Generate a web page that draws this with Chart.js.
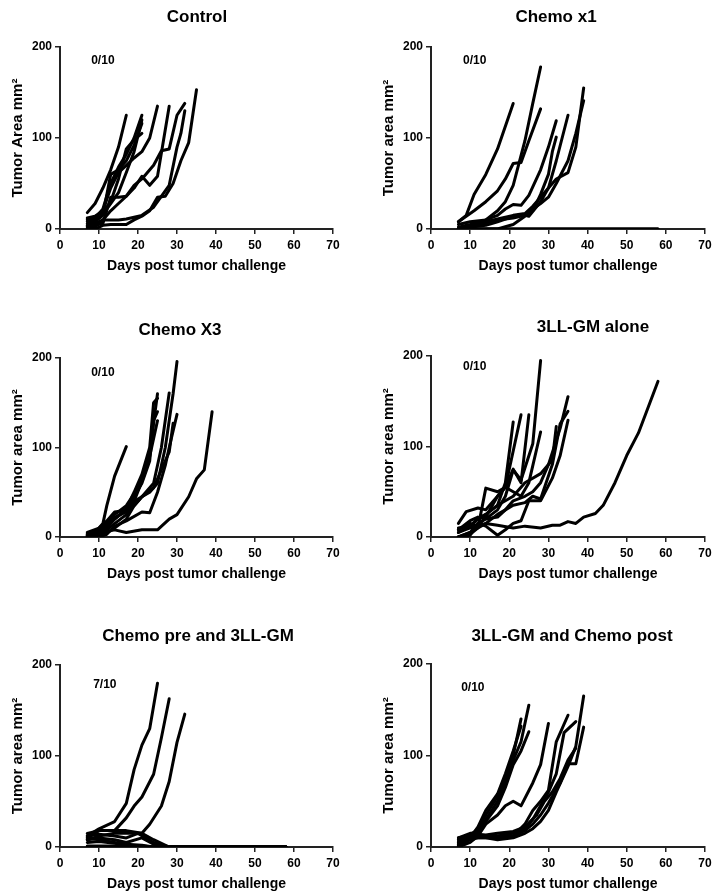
<!DOCTYPE html>
<html>
<head>
<meta charset="utf-8">
<script src="https://cdn.jsdelivr.net/npm/chart.js@4.4.1/dist/chart.umd.min.js"></script>
<style>
  html, body { margin: 0; padding: 0; background: #fff; overflow: hidden; width: 726px; height: 895px; }
  canvas { position: absolute; }
</style>
</head>
<body>
<script>
// tumor area (mm2) per mouse, as [day, area] pairs
const controlMice = [
  [[7,18],[9,28],[11,45],[13,65],[15,90],[17,125]],
  [[7,8],[9,12],[11,22],[13,50],[15,68],[17,82],[19,100],[21,125]],
  [[7,4],[9,8],[11,15],[13,60],[15,65],[17,75],[19,92],[21,116]],
  [[7,10],[9,14],[11,18],[13,30],[15,55],[17,88],[19,98],[21,105]],
  [[7,12],[9,14],[11,20],[13,45],[15,62],[17,70],[19,78],[21,85],[23,100],[25,135]],
  [[7,3],[9,6],[11,10],[13,20],[15,28],[17,36],[19,45],[21,58],[23,48],[25,58],[28,135]],
  [[7,2],[9,4],[11,6],[13,35],[15,35],[17,36],[19,48],[21,55],[24,70],[26,86],[28,88],[30,125],[32,138]],
  [[7,0],[9,2],[11,10],[13,10],[15,10],[17,11],[19,13],[21,15],[24,24],[28,48],[30,90],[31,105],[32,130]],
  [[7,0],[9,0],[11,4],[13,5],[15,5],[17,5],[19,10],[21,14],[23,20],[25,35],[27,36],[29,50],[31,75],[33,95],[35,153]],
  [[7,6],[9,10],[11,16],[13,28],[15,40],[17,62],[19,85],[21,120]]
];

const chemoOnceMice = [
  [[7,8],[9,15],[11,38],[14,60],[17,88],[21,138]],
  [[7,5],[10,8],[14,10],[17,20],[19,30],[21,48],[24,97],[26,138],[28,178]],
  [[7,8],[9,14],[11,20],[14,30],[17,42],[19,55],[21,72],[23,73],[25,97],[28,132]],
  [[7,2],[10,5],[14,10],[17,15],[19,22],[21,27],[23,26],[25,37],[28,65],[30,90],[32,119]],
  [[7,0],[10,3],[14,6],[17,10],[21,12],[24,15],[26,20],[28,38],[30,60],[31,85],[32,101]],
  [[7,0],[10,2],[14,4],[17,8],[21,14],[24,15],[25,14],[28,30],[30,45],[32,75],[35,125]],
  [[7,0],[10,3],[14,8],[17,11],[21,15],[24,17],[26,25],[28,35],[30,45],[32,55],[35,62],[37,90],[39,155]],
  [[7,0],[10,0],[14,0],[17,0],[21,5],[24,14],[26,22],[28,28],[30,35],[32,50],[35,75],[37,105],[39,141]],
  [[7,0],[58,0]],
  [[7,0],[58,0]]
];

const chemoThriceMice = [
  [[7,2],[9,5],[11,15],[12,35],[14,68],[17,101]],
  [[7,3],[10,8],[12,15],[14,25],[17,35],[19,48],[21,65],[23,95],[25,160]],
  [[7,0],[10,5],[12,10],[14,20],[17,32],[19,50],[21,70],[23,100],[24,150],[25,155]],
  [[7,5],[10,10],[12,18],[14,28],[17,30],[19,45],[21,60],[23,85],[24,130],[25,140]],
  [[7,0],[10,2],[12,8],[14,15],[17,25],[19,40],[21,62],[23,90],[25,130]],
  [[7,2],[10,6],[12,12],[14,20],[17,30],[19,40],[21,45],[24,60],[26,100],[28,161]],
  [[7,0],[10,3],[12,5],[14,10],[17,20],[19,35],[21,45],[23,50],[25,60],[27,100],[28,130],[29,160],[30,196]],
  [[7,0],[10,0],[12,3],[14,12],[17,18],[21,28],[23,27],[25,50],[27,80],[28,100],[30,137]],
  [[7,4],[10,8],[12,14],[14,22],[17,28],[19,35],[21,45],[24,55],[26,75],[28,95],[29,127]],
  [[7,2],[10,4],[14,8],[17,5],[21,8],[25,8],[28,20],[30,25],[33,45],[35,65],[37,75],[39,140]]
];

const vaccineMice = [
  [[7,0],[10,5],[12,15],[14,20],[17,30],[19,45],[21,74],[23,63],[26,103],[28,195]],
  [[7,10],[10,12],[12,20],[14,25],[17,35],[19,60],[21,127]],
  [[7,8],[10,15],[12,12],[14,22],[17,45],[19,55],[21,95],[23,135]],
  [[7,15],[9,28],[12,32],[14,30],[17,45],[19,55],[21,75],[23,60],[25,135]],
  [[7,0],[10,3],[12,10],[14,54],[17,50],[19,55],[21,50],[23,45],[25,60],[28,116]],
  [[7,5],[10,12],[12,20],[14,25],[17,35],[21,45],[24,60],[28,70],[31,85],[32,122]],
  [[7,0],[10,5],[12,10],[14,15],[17,25],[19,30],[21,40],[24,45],[26,50],[28,60],[30,80],[33,120],[35,155]],
  [[7,8],[10,18],[12,22],[14,20],[17,22],[19,30],[21,35],[24,38],[26,45],[28,42],[31,80],[33,125],[35,139]],
  [[7,0],[10,2],[12,15],[14,12],[17,2],[19,8],[21,15],[23,18],[25,40],[28,40],[31,65],[33,90],[35,129]],
  [[7,5],[10,10],[14,15],[17,13],[21,10],[24,12],[28,10],[31,13],[33,13],[35,17],[37,15],[39,22],[42,26],[44,35],[47,60],[50,90],[53,115],[58,172]]
];

const chemoPreMice = [
  [[7,12],[10,20],[14,28],[17,48],[19,85],[21,112],[23,130],[25,180]],
  [[7,10],[10,18],[14,18],[17,32],[19,45],[21,55],[24,80],[26,120],[28,163]],
  [[7,8],[10,12],[14,15],[17,15],[21,15],[23,25],[26,45],[28,72],[30,115],[32,146]],
  [[7,15],[10,18],[14,18],[17,18],[21,15],[24,8],[28,0],[58,0]],
  [[7,12],[10,14],[14,12],[17,10],[20,15],[24,5],[28,0],[58,0]],
  [[7,8],[10,10],[14,8],[17,5],[21,10],[24,3],[26,0],[58,0]],
  [[7,10],[10,8],[14,5],[17,3],[21,2],[24,0],[58,0]],
  [[7,5],[10,6],[14,4],[17,2],[21,0],[58,0]],
  [[7,0],[58,0]],
  [[7,1],[10,1],[14,1],[17,1],[21,1],[24,0],[58,0]]
];

const chemoPostMice = [
  [[7,8],[10,12],[12,20],[14,35],[17,55],[19,75],[21,100],[23,140]],
  [[7,5],[10,10],[12,22],[14,40],[17,58],[19,80],[21,105],[23,132]],
  [[7,3],[10,14],[12,18],[14,30],[17,50],[19,70],[21,95],[23,115],[25,155]],
  [[7,10],[10,15],[12,15],[14,28],[17,45],[19,65],[21,90],[23,105],[25,126]],
  [[7,0],[10,5],[12,12],[14,25],[17,35],[19,45],[21,50],[23,45],[26,70],[28,90],[30,135]],
  [[7,5],[10,12],[12,10],[14,10],[17,10],[21,12],[24,25],[26,40],[28,50],[30,62],[32,115],[35,144]],
  [[7,8],[10,14],[12,12],[14,12],[17,12],[21,15],[24,20],[26,30],[28,45],[30,60],[32,80],[34,125],[37,137]],
  [[7,2],[10,8],[12,10],[14,10],[17,8],[21,10],[24,15],[26,20],[28,28],[30,40],[32,60],[35,88],[37,110],[39,165]],
  [[7,5],[10,10],[12,12],[14,12],[17,12],[21,12],[24,18],[26,25],[28,35],[30,48],[33,70],[35,91],[37,91],[39,131]],
  [[7,10],[10,12],[12,14],[14,13],[17,15],[21,17],[24,22],[27,35],[29,50],[31,60],[33,75],[35,95],[37,108]]
];

const groupData = [controlMice, chemoOnceMice, chemoThriceMice, vaccineMice, chemoPreMice, chemoPostMice];
const panelTitles = ['Control', 'Chemo x1', 'Chemo X3', '3LL-GM alone', 'Chemo pre and 3LL-GM', '3LL-GM and Chemo post'];
const yTitles = ['Tumor Area mm²', 'Tumor area mm²', 'Tumor area mm²', 'Tumor area mm²', 'Tumor area mm²', 'Tumor area mm²'];
const tumorFree = ['0/10', '0/10', '0/10', '0/10', '7/10', '0/10'];
const dayTicks = [0, 10, 20, 30, 40, 50, 60, 70];
const areaTicks = [0, 100, 200];

// page placement: canvas box, plot box, title centre, where the x/10 note sits (data units)
const panels = [
  { left: 0,   top: 0,   h: 290, plot: [60, 47, 333, 229],  title: [197, 17],  note: [8, 185] },
  { left: 363, top: 0,   h: 290, plot: [431, 47, 705, 229], title: [556, 17],  note: [8.2, 185] },
  { left: 0,   top: 290, h: 300, plot: [60, 358, 333, 537], title: [180, 330], note: [8, 184] },
  { left: 363, top: 290, h: 300, plot: [431, 356, 705, 537], title: [593, 327], note: [8.2, 188] },
  { left: 0,   top: 590, h: 310, plot: [60, 665, 333, 847], title: [198, 636], note: [8.5, 178] },
  { left: 363, top: 590, h: 310, plot: [431, 664, 705, 847], title: [572, 636], note: [7.7, 174] }
];

const W = 363, Y_W = 55, X_H = 50;
const FONT = '"Liberation Sans", Arial, Helvetica, sans-serif';
Chart.defaults.font.family = FONT;
Chart.defaults.color = '#000';

// draws the panel heading and the tumour-free count
const panelText = {
  id: 'panelText',
  afterDraw(chart, args, opts) {
    const ctx = chart.ctx;
    ctx.save();
    ctx.fillStyle = '#000';
    ctx.textBaseline = 'middle';
    ctx.textAlign = 'center';
    ctx.font = 'bold 17px ' + FONT;
    ctx.fillText(opts.title, opts.titleX, opts.titleY);
    ctx.textAlign = 'left';
    ctx.font = 'bold 12px ' + FONT;
    ctx.fillText(opts.note, chart.scales.x.getPixelForValue(opts.noteAt[0]), chart.scales.y.getPixelForValue(opts.noteAt[1]));
    ctx.restore();
  }
};

const axisLine = { display: true, color: '#222', width: 2 };
const tickMarks = { display: true, drawOnChartArea: false, drawTicks: true, tickLength: 5, color: '#222', lineWidth: 1.5 };

panels.forEach((p, i) => {
  const canvas = document.createElement('canvas');
  canvas.width = W;
  canvas.height = p.h;
  canvas.style.left = p.left + 'px';
  canvas.style.top = p.top + 'px';
  document.body.appendChild(canvas);

  const [pl, pt, pr, pb] = p.plot;

  new Chart(canvas, {
    type: 'line',
    data: {
      datasets: groupData[i].map(mouse => ({
        data: mouse.map(d => ({ x: d[0], y: d[1] })),
        borderColor: '#000',
        borderWidth: 3,
        pointRadius: 0,
        tension: 0,
        fill: false,
        borderCapStyle: 'round',
        borderJoinStyle: 'round'
      }))
    },
    options: {
      responsive: false,
      animation: false,
      events: [],
      layout: {
        padding: {
          left: pl - p.left - Y_W,
          right: p.left + W - pr,
          top: pt - p.top,
          bottom: p.top + p.h - pb - X_H
        }
      },
      plugins: {
        legend: { display: false },
        tooltip: { enabled: false },
        panelText: {
          title: panelTitles[i],
          titleX: p.title[0] - p.left,
          titleY: p.title[1] - p.top,
          note: tumorFree[i],
          noteAt: p.note
        }
      },
      scales: {
        x: {
          type: 'linear',
          min: 0,
          max: 70,
          afterBuildTicks: s => { s.ticks = dayTicks.map(v => ({ value: v })); },
          afterFit: s => { s.height = X_H; },
          border: axisLine,
          grid: tickMarks,
          ticks: { font: { size: 12, weight: 'bold' }, color: '#000', padding: 4, maxRotation: 0, autoSkip: false },
          title: { display: true, text: 'Days post tumor challenge', font: { size: 14, weight: 'bold' }, color: '#000', padding: { top: 4, bottom: 4 } }
        },
        y: {
          min: 0,
          max: 200,
          afterBuildTicks: s => { s.ticks = areaTicks.map(v => ({ value: v })); },
          afterFit: s => { s.width = Y_W; },
          border: axisLine,
          grid: tickMarks,
          ticks: { font: { size: 12, weight: 'bold' }, color: '#000', padding: 3 },
          title: { display: true, text: yTitles[i], font: { size: 15, weight: 'bold' }, color: '#000', padding: { top: 4, bottom: 4 } }
        }
      }
    },
    plugins: [panelText]
  });
});
</script>
</body>
</html>
